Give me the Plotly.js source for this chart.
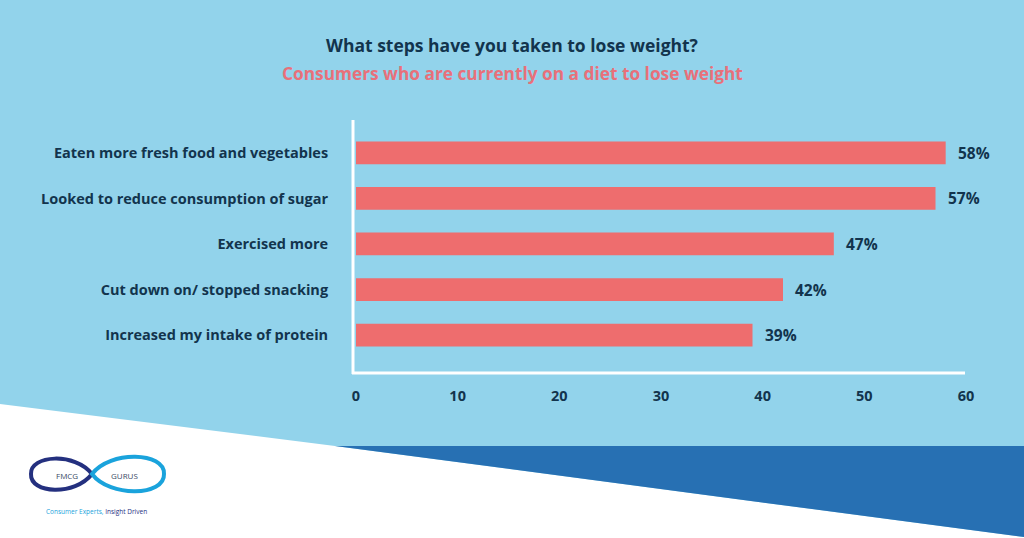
<!DOCTYPE html>
<html>
<head>
<meta charset="utf-8">
<script src="https://cdn.plot.ly/plotly-3.0.1.min.js"></script>
<style>html,body{margin:0;padding:0;background:#92D3EB;}#chart{width:1024px;height:538px;}</style>
</head>
<body>
<div id="chart"></div>
<script>
// ---- data ----
const categories = [
  "Eaten more fresh food and vegetables",
  "Looked to reduce consumption of sugar",
  "Exercised more",
  "Cut down on/ stopped snacking",
  "Increased my intake of protein"
];
const values = [58, 57, 47, 42, 39];
const xTickVals = [0, 10, 20, 30, 40, 50, 60];
const titleText = "What steps have you taken to lose weight?";
const subtitleText = "Consumers who are currently on a diet to lose weight";

// ---- layout geometry ----
const W = 1024, H = 538;
const L = 352, R = 966, T = 120, B = 373;
const pw = R - L, ph = B - T;
const px = x => (x - L) / pw;
const py = y => (B - y) / ph;

const navy = "#12344D";
const font = "'Open Sans', Lato, sans-serif";

const trace = {
  type: "bar",
  orientation: "h",
  x: values,
  y: categories,
  width: 0.5,
  marker: {color: "#EE6D6E"},
  hoverinfo: "x+y"
};

const annotations = values.map((v, i) => ({
  x: v, y: categories[i], xref: "x", yref: "y",
  text: v + "%", showarrow: false, xanchor: "left", xshift: 10,
  font: {family: font, size: 15.5, color: navy, weight: 700}
}));
annotations.push({
  x: px(512), y: py(74), xref: "paper", yref: "paper",
  text: subtitleText, showarrow: false, xanchor: "center", yanchor: "middle",
  font: {family: font, size: 17.3, color: "#E8707A", weight: 700}
});
// logo texts
annotations.push({x: px(67), y: py(476), xref: "paper", yref: "paper", text: "FMCG", showarrow: false,
  xanchor: "center", yanchor: "middle", font: {family: font, size: 8, color: "#3b4a66"}});
annotations.push({x: px(124), y: py(476), xref: "paper", yref: "paper", text: "GURUS", showarrow: false,
  xanchor: "center", yanchor: "middle", font: {family: font, size: 8, color: "#3b4a66"}});
annotations.push({x: px(96), y: py(511), xref: "paper", yref: "paper",
  text: "<span style='color:#1AA3DC'>Consumer Experts,</span> <span style='color:#24307F'>Insight Driven</span>",
  showarrow: false, xanchor: "center", yanchor: "middle", font: {family: font, size: 6.5}});

const shapes = [
  // white lower band
  {type: "path", xref: "paper", yref: "paper", layer: "below",
   path: `M${px(0)},${py(404)} L${px(335)},${py(446)} L${px(1024)},${py(537)} L${px(1024)},${py(540)} L${px(0)},${py(540)} Z`,
   fillcolor: "#FFFFFF", line: {width: 0}},
  // dark blue wedge
  {type: "path", xref: "paper", yref: "paper", layer: "below",
   path: `M${px(335)},${py(446)} L${px(1024)},${py(446)} L${px(1024)},${py(537)} Z`,
   fillcolor: "#2770B3", line: {width: 0}},
  // axis lines
  {type: "line", xref: "paper", yref: "paper", x0: px(353), x1: px(353), y0: py(120), y1: py(374),
   line: {color: "#FFFFFF", width: 3}},
  {type: "line", xref: "paper", yref: "paper", x0: px(352), x1: px(965), y0: py(373), y1: py(373),
   line: {color: "#FFFFFF", width: 3}},
  // logo loops (infinity)
  {type: "path", xref: "paper", yref: "paper",
   path: `M${px(92)},${py(474)} C${px(75)},${py(452)} ${px(30)},${py(455)} ${px(31)},${py(474)} C${px(30)},${py(494)} ${px(75)},${py(496)} ${px(92)},${py(474)} Z`,
   fillcolor: "#FFFFFF", line: {color: "#24307F", width: 4}},
  {type: "path", xref: "paper", yref: "paper",
   path: `M${px(92)},${py(474)} C${px(110)},${py(450)} ${px(165)},${py(452)} ${px(164)},${py(474)} C${px(165)},${py(496)} ${px(110)},${py(498)} ${px(92)},${py(474)} Z`,
   fillcolor: "#FFFFFF", line: {color: "#1AA3DC", width: 4}}
];

const layout = {
  width: W, height: H,
  margin: {l: L, r: W - R, t: T, b: H - B, pad: 0},
  paper_bgcolor: "#92D3EB",
  plot_bgcolor: "rgba(0,0,0,0)",
  showlegend: false,
  title: {
    text: titleText, x: 0.5, xref: "container", xanchor: "center",
    y: 1 - 46 / H, yref: "container", yanchor: "middle",
    font: {family: font, size: 17.5, color: navy, weight: 700}
  },
  xaxis: {
    range: [-0.393, 60],
    tickvals: xTickVals,
    ticktext: xTickVals.map(String),
    showgrid: false, zeroline: false, showline: false,
    ticks: "outside", ticklen: 10, tickcolor: "rgba(0,0,0,0)",
    tickfont: {family: font, size: 14.5, color: navy, weight: 700},
    fixedrange: true
  },
  yaxis: {
    type: "category",
    categoryorder: "array", categoryarray: categories,
    range: [4.835, -0.725],
    showgrid: false, zeroline: false, showline: false,
    ticks: "outside", ticklen: 20, tickcolor: "rgba(0,0,0,0)",
    tickfont: {family: font, size: 14.5, color: navy, weight: 700},
    fixedrange: true
  },
  annotations: annotations,
  shapes: shapes
};

Plotly.newPlot("chart", [trace], layout, {displayModeBar: false, staticPlot: true});
</script>
</body>
</html>
